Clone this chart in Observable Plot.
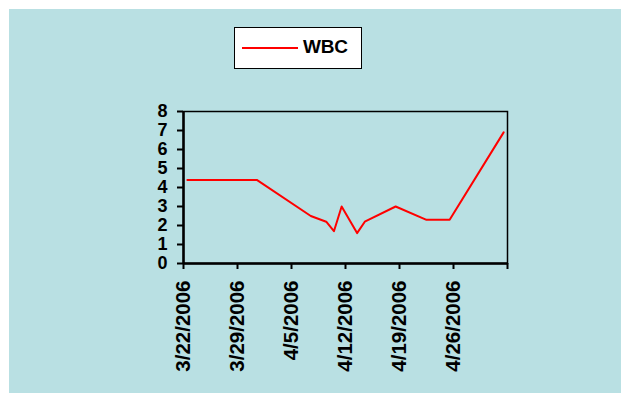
<!DOCTYPE html>
<html>
<head>
<meta charset="utf-8">
<script src="https://cdn.jsdelivr.net/npm/d3@7"></script>
<script src="https://cdn.jsdelivr.net/npm/@observablehq/plot@0.6"></script>
<style>
  html, body { margin: 0; padding: 0; background: #ffffff; }
  #bg { position: absolute; left: 9px; top: 9px; width: 612px; height: 384px; background: #b9e0e3; }
  #chart { position: absolute; left: 0; top: 0; }
  #legend { position: absolute; left: 225px; top: 18px; width: 126px; height: 40px; background: #ffffff; border: 1px solid #000; }
  #legend .swatch { position: absolute; left: 7px; top: 19px; width: 56px; height: 2px; background: #ff0000; }
  #legend .label { position: absolute; left: 68px; top: 9px; font: bold 19px Arial, "Liberation Sans", sans-serif; line-height: 19px; color: #000; letter-spacing: -0.2px; }
</style>
</head>
<body>
<div id="bg">
  <div id="chart"></div>
  <div id="legend"><div class="swatch"></div><span class="label">WBC</span></div>
</div>
<script>
// Data
const dates = ["2006-03-22","2006-03-31","2006-04-07","2006-04-09","2006-04-10","2006-04-11","2006-04-13","2006-04-14","2006-04-18","2006-04-22","2006-04-25","2006-05-02"];
const wbc = [4.4, 4.4, 2.5, 2.2, 1.7, 3.0, 1.6, 2.2, 3.0, 2.3, 2.3, 6.9];
const seriesName = "WBC";
const xTickDates = ["2006-03-22","2006-03-29","2006-04-05","2006-04-12","2006-04-19","2006-04-26","2006-05-03"];
const yTicks = [0, 1, 2, 3, 4, 5, 6, 7, 8];

const parse = d3.utcParse("%Y-%m-%d");
const fmt = d3.utcFormat("%-m/%-d/%Y");
const halfDay = 12 * 3600 * 1000;
const data = dates.map((d, i) => ({date: new Date(+parse(d) + halfDay), value: wbc[i]}));
const xTicks = xTickDates.map(parse);
const xEnd = xTicks[xTicks.length - 1];

const chart = Plot.plot({
  width: 612,
  height: 384,
  marginLeft: 174,
  marginRight: 114,
  marginTop: 102,
  marginBottom: 130,
  style: {background: "transparent", fontFamily: "Arial, 'Liberation Sans', sans-serif", color: "#000", overflow: "visible"},
  x: {type: "utc", domain: [xTicks[0], xEnd]},
  y: {domain: [0, 8]},
  marks: [
    Plot.frame({stroke: "#000", strokeWidth: 1.5}),
    Plot.ruleY([0], {stroke: "#000", strokeWidth: 2.5}),
    Plot.ruleX([xTicks[0]], {stroke: "#000", strokeWidth: 2.5}),
    Plot.axisY({ticks: yTicks, tickSize: 6, tickPadding: 10, fontSize: 18, fontWeight: "bold", strokeWidth: 2, label: null}),
    Plot.axisX({ticks: xTicks, tickSize: 6, tickPadding: 11, tickRotate: -90, fontSize: 20.5, fontWeight: "bold", strokeWidth: 2, label: null,
      tickFormat: d => (+d === +xEnd ? "" : fmt(d))}),
    Plot.line(data, {x: "date", y: "value", stroke: "#ff0000", strokeWidth: 2})
  ]
});
document.getElementById("chart").appendChild(chart);
</script>
</body>
</html>
